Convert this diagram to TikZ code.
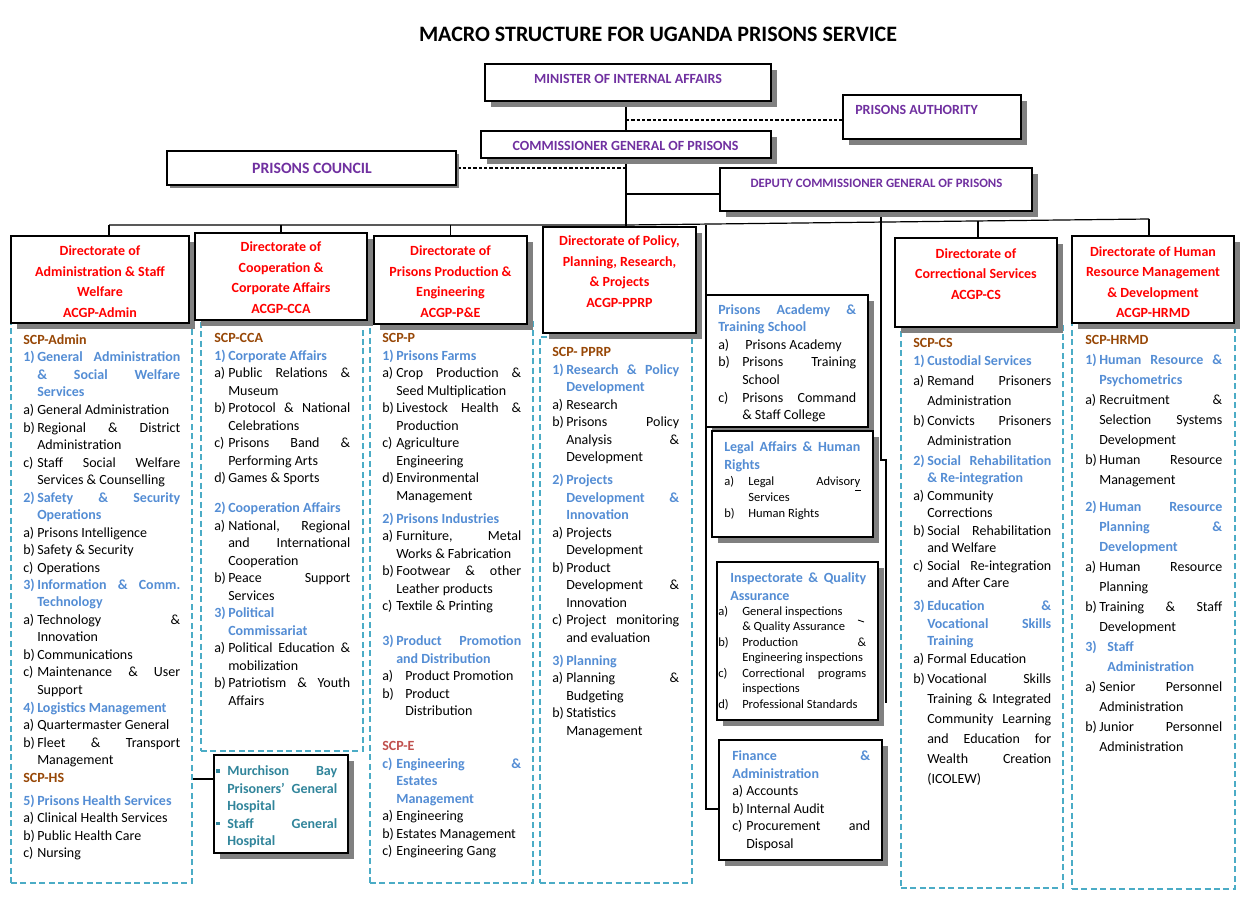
\documentclass[tikz,border=0pt]{standalone}
\usepackage{fontspec}
\setmainfont{Carlito}
\usetikzlibrary{shadows,backgrounds}
\definecolor{purp}{RGB}{112,48,160}
\definecolor{dred}{RGB}{255,0,0}
\definecolor{scpbrown}{RGB}{151,71,6}
\definecolor{scpred}{RGB}{192,80,77}
\definecolor{hblue}{RGB}{84,141,212}
\definecolor{dashc}{RGB}{75,172,198}
\definecolor{murch}{RGB}{49,133,155}
\definecolor{shad}{RGB}{128,128,128}
\newlength\hind
\newcommand\px[1]{\dimexpr #1pt*3/4\relax}
\newcommand\itm[2]{\par\hangindent=\hind\hangafter=1\noindent\makebox[\hind][l]{#1}#2}
\newcommand\itmw[3]{\par\hangindent=#1\hangafter=1\noindent\makebox[#1][l]{#2}#3}
\newcommand\hdg[2]{\par\hangindent=\hind\hangafter=1\noindent\textcolor{hblue}{\bfseries\makebox[\hind][l]{#1}#2}}
\newcommand\hdgw[3]{\par\hangindent=#1\hangafter=1\noindent\textcolor{hblue}{\bfseries\makebox[#1][l]{#2}#3}}
\newcommand\scp[2][scpbrown]{\par\noindent\textcolor{#1}{\bfseries #2}}
\newcommand\gap[1]{\par\vspace{\px{#1}}}
\newcommand\bs[1]{\par\baselineskip=\px{#1}\relax}
\newcommand\colt[3]{\begin{minipage}[t]{\px{#1}}\hind=\px{#2}\relax\fontsize{10.5}{13.125}\selectfont\frenchspacing\tolerance=10000\hbadness=10000\hfuzz=3pt\hyphenpenalty=10000\exhyphenpenalty=10000\parindent=0pt\parskip=0pt\relax #3\par\end{minipage}}
\newcommand\mbul{\textcolor{murch}{\rule[2.2pt]{2.6pt}{2.6pt}}}
\newcommand\mkbox[6]{\node[#1,minimum width={(#5-#3)*0.75pt},minimum height={(#6-#4)*0.75pt}] (#2) at ({(#3+#5)/2},{(#4+#6)/2}) {};}
\tikzset{
  ubox/.style={draw=black,line width=1.1pt,fill=white,inner sep=0pt,
    drop shadow={shadow xshift=4.5pt,shadow yshift=-4.5pt,fill=shad,opacity=1}},
  cbox/.style={draw=black,line width=2.2pt,fill=white,inner sep=0pt,
    drop shadow={shadow xshift=2.5pt,shadow yshift=-2.5pt,fill=shad,opacity=1}},
  cont/.style={draw=dashc,line width=1.6pt,dash pattern=on 4.5pt off 2.6pt,inner sep=0pt},
  conn/.style={draw=black,line width=0.9pt},
  dconn/.style={draw=black,line width=0.9pt,dash pattern=on 2.4pt off 1.6pt},
  txt/.style={inner sep=0pt,anchor=base west},
  dirt/.style={inner sep=0pt,align=center,text=dred,font=\bfseries\fontsize{10.5}{15.4}\selectfont},
  topt/.style={inner sep=0pt,text=purp,font=\bfseries\fontsize{10.5}{12}\selectfont},
}
\begin{document}
\begin{tikzpicture}[x=0.75pt,y=-0.75pt]
\useasboundingbox (0,0) rectangle (1252,905);
\node[font=\bfseries\fontsize{16.5}{18}\selectfont,inner sep=0pt] (title) at (658,34) {MACRO STRUCTURE FOR UGANDA PRISONS SERVICE};
% containers
\mkbox{cont}{kAdm}{11}{318}{192}{883}
\mkbox{cont}{kCCA}{201}{315}{363}{751}
\mkbox{cont}{kPE}{370}{319}{533}{883}
\mkbox{cont}{kPP}{540}{337}{692}{883}
\mkbox{cont}{kCS}{901}{322}{1063}{888}
\mkbox{cont}{kHR}{1072}{318}{1235}{889}
% top boxes
\mkbox{ubox}{min}{485}{64}{771}{101}
\mkbox{ubox}{auth}{843}{95}{1021}{139}
\mkbox{ubox}{cg}{481}{131}{771}{158}
\mkbox{cbox}{coun}{167}{151}{456}{185}
\mkbox{ubox}{dep}{720}{168}{1032}{211}
% directorates
\mkbox{ubox}{dAdm}{11}{236}{189}{323}
\mkbox{ubox}{dCCA}{195}{233}{367}{320}
\mkbox{ubox}{dPE}{374}{236}{527}{324}
\mkbox{ubox}{dPP}{543}{227}{696}{333}
\mkbox{ubox}{dCS}{895}{238}{1057}{327}
\mkbox{ubox}{dHR}{1072}{236}{1234}{323}
% side boxes
\mkbox{ubox}{acad}{706}{295}{868}{427}
\mkbox{ubox}{legal}{712}{431}{873}{537}
\mkbox{ubox}{insp}{717}{562}{878}{720}
\mkbox{ubox}{fin}{719}{740}{882}{860}
\mkbox{ubox}{murch}{214}{755}{348}{853}
% top texts
\node[topt] (tMin) at (628,79) {MINISTER OF INTERNAL AFFAIRS};
\node[topt,anchor=west] (tAuth) at (855,110) {PRISONS AUTHORITY};
\node[topt] (tCG) at (625.5,145.5) {COMMISSIONER GENERAL OF PRISONS};
\node[topt,font=\bfseries\fontsize{11.8}{13}\selectfont] (tCoun) at (312,168) {PRISONS COUNCIL};
\node[topt,font=\bfseries\fontsize{9.6}{11}\selectfont] (tDep) at (876.5,183) {DEPUTY COMMISSIONER GENERAL OF PRISONS};
% directorate texts
\node[dirt] (tAdm) at (100,281.5) {Directorate of\\Administration \& Staff\\Welfare\\ACGP-Admin};
\node[dirt] (tCCA) at (281,277.5) {Directorate of\\Cooperation \&\\Corporate Affairs\\ACGP-CCA};
\node[dirt] (tPE) at (450.5,281.5) {Directorate of\\Prisons Production \&\\Engineering\\ACGP-P\&E};
\node[dirt] (tPP) at (619.5,271.5) {Directorate of Policy,\\Planning, Research,\\\& Projects\\ACGP-PPRP};
\node[dirt] (tCS) at (976,274) {Directorate of\\Correctional Services\\ACGP-CS};
\node[dirt] (tHR) at (1153,282) {Directorate of Human\\Resource Management\\\& Development\\ACGP-HRMD};
% column texts
\node[txt] (cAdm) at (23,344.5) {\colt{157}{14}{%
\scp{SCP-Admin}
\hdg{1)}{General Administration \linebreak \& Social Welfare \linebreak Services}
\itm{a)}{General Administration}
\itm{b)}{Regional \& District \linebreak Administration}
\itm{c)}{Staff Social Welfare \linebreak Services \& Counselling}
\hdg{2)}{Safety \& Security \linebreak Operations}
\itm{a)}{Prisons Intelligence}
\itm{b)}{Safety \& Security}
\itm{c)}{Operations}
\hdg{3)}{Information \& Comm. \linebreak Technology}
\itm{a)}{Technology \& \linebreak Innovation}
\itm{b)}{Communications}
\itm{c)}{Maintenance \& User \linebreak Support}
\hdg{4)}{Logistics Management}
\itm{a)}{Quartermaster General}
\itm{b)}{Fleet \& Transport \linebreak Management}
\scp{SCP-HS}
\gap{5.5}
\hdg{5)}{Prisons Health Services}
\itm{a)}{Clinical Health Services}
\itm{b)}{Public Health Care}
\itm{c)}{Nursing}}};
\node[txt] (cCCA) at (214,342.5) {\colt{136}{14}{%
\scp{SCP-CCA}
\hdg{1)}{Corporate Affairs}
\itm{a)}{Public Relations \& \linebreak Museum}
\itm{b)}{Protocol \& National \linebreak Celebrations}
\itm{c)}{Prisons Band \& \linebreak Performing Arts}
\itm{d)}{Games \& Sports}
\gap{12.5}
\hdg{2)}{Cooperation Affairs}
\itm{a)}{National, Regional \linebreak and International \linebreak Cooperation}
\itm{b)}{Peace Support \linebreak Services}
\hdg{3)}{Political \linebreak Commissariat}
\itm{a)}{Political Education \& \linebreak mobilization}
\itm{b)}{Patriotism \& Youth \linebreak Affairs}}};
\node[txt] (cPE) at (382,342.5) {\colt{139}{14}{%
\scp{SCP-P}
\hdg{1)}{Prisons Farms}
\itm{a)}{Crop Production \& \linebreak Seed Multiplication}
\itm{b)}{Livestock Health \& \linebreak Production}
\itm{c)}{Agriculture \linebreak Engineering}
\itm{d)}{Environmental \linebreak Management}
\gap{5.5}
\hdg{2)}{Prisons Industries}
\itm{a)}{Furniture, Metal \linebreak Works \& Fabrication}
\itm{b)}{Footwear \& other \linebreak Leather products}
\itm{c)}{Textile \& Printing}
\gap{17.5}
\hdg{3)}{Product Promotion \linebreak and Distribution}
\itmw{\px{23}}{a)}{Product Promotion}
\itmw{\px{23}}{b)}{Product \linebreak Distribution}
\gap{17.5}
\scp[scpred]{SCP-E}
\hdg{c)}{Engineering \& \linebreak Estates \linebreak Management}
\itm{a)}{Engineering}
\itm{b)}{Estates Management}
\itm{c)}{Engineering Gang}}};
\node[txt] (cPP) at (552,356.5) {\colt{127}{14}{%
\scp{SCP- PPRP}
\hdg{1)}{Research \& Policy \linebreak Development}
\itm{a)}{Research}
\itm{b)}{Prisons Policy \linebreak Analysis \& \linebreak Development}
\gap{5.5}
\hdg{2)}{Projects \linebreak Development \& \linebreak Innovation}
\itm{a)}{Projects \linebreak Development}
\itm{b)}{Product \linebreak Development \& \linebreak Innovation}
\itm{c)}{Project monitoring \linebreak and evaluation}
\gap{5.5}
\hdg{3)}{Planning}
\itm{a)}{Planning \& \linebreak Budgeting}
\itm{b)}{Statistics \linebreak Management}}};
\node[txt] (cCS) at (913,347.5) {\colt{138}{14}{%
\scp{SCP-CS}
\hdg{1)}{Custodial Services}
\bs{20}
\itm{a)}{Remand Prisoners \linebreak Administration}
\itm{b)}{Convicts Prisoners \linebreak Administration}
\bs{17.5}\gap{2.5}
\hdg{2)}{Social Rehabilitation \linebreak \& Re-integration}
\itm{a)}{Community \linebreak Corrections}
\itm{b)}{Social Rehabilitation \linebreak and Welfare}
\itm{c)}{Social Re-integration \linebreak and After Care}
\gap{5.5}
\hdg{3)}{Education \& \linebreak Vocational Skills \linebreak Training}
\itm{a)}{Formal Education}
\bs{20}
\itm{b)}{Vocational Skills \linebreak Training \& Integrated \linebreak Community Learning \linebreak and Education for \linebreak Wealth Creation \linebreak (ICOLEW)}}};
\node[txt] (cHR) at (1085,344.5) {\colt{137}{14}{%
\scp{SCP-HRMD}
\bs{20}
\hdg{1)}{Human Resource \& \linebreak Psychometrics}
\itm{a)}{Recruitment \& \linebreak Selection Systems \linebreak Development}
\itm{b)}{Human Resource \linebreak Management}
\gap{7}
\hdg{2)}{Human Resource \linebreak Planning \& \linebreak Development}
\itm{a)}{Human Resource \linebreak Planning}
\itm{b)}{Training \& Staff \linebreak Development}
\hdgw{\px{22}}{3)}{Staff \linebreak Administration}
\itm{a)}{Senior Personnel \linebreak Administration}
\itm{b)}{Junior Personnel \linebreak Administration}}};
% side box texts
\node[txt] (cAcad) at (718,314.5) {\colt{138}{24}{%
\noindent\textcolor{hblue}{\bfseries Prisons Academy \& \linebreak Training School}
\itmw{\px{27}}{a)}{Prisons Academy}
\itm{b)}{Prisons Training \linebreak School}
\itm{c)}{Prisons Command \linebreak \& Staff College}}};
\node[txt] (cLegal) at (724,451.5) {\colt{136}{24}{%
\noindent\textcolor{hblue}{\bfseries Legal Affairs \& Human \linebreak Rights}\par
\fontsize{9.4}{12}\selectfont
\itm{a)}{Legal Advisory \linebreak Services}
\itm{b)}{Human Rights}}};
\node[txt] (cInsp) at (718,582.5) {\colt{148}{24}{%
{\leftskip=9pt\noindent\textcolor{hblue}{\bfseries Inspectorate \& Quality \linebreak Assurance}\par}
\fontsize{9.4}{11.6}\selectfont
\itm{a)}{General inspections\newline \& Quality Assurance}
\itm{b)}{Production \& \linebreak Engineering inspections}
\itm{c)}{Correctional programs \linebreak inspections}
\itm{d)}{Professional Standards}}};
\node[txt] (cFin) at (732,760.5) {\colt{138}{14}{%
\noindent\textcolor{hblue}{\bfseries Finance \& \linebreak Administration}
\itm{a)}{Accounts}
\itm{b)}{Internal Audit}
\itm{c)}{Procurement and \linebreak Disposal}}};
\node[txt] (cMurch) at (216,775.5) {\colt{121}{11}{%
\itm{\mbul}{\textcolor{murch}{\bfseries Murchison Bay \linebreak Prisoners’ General \linebreak Hospital}}
\itm{\mbul}{\textcolor{murch}{\bfseries Staff General \linebreak Hospital}}}};
% small marks
\draw[line width=0.7pt] (855,490) -- (861,490);
\draw[line width=0.6pt] (858,620) -- (864,622);
% connectors
\begin{scope}[on background layer]
\coordinate (ja) at (626,120);
\coordinate (jd) at (626,194);
\coordinate (bL) at (109,225);
\coordinate (bM) at (626,225);
\coordinate (bR) at (1149,219);
\coordinate (bC) at (978,221);
\coordinate (b7) at (706,225);
\coordinate (f7) at (706,809);
\coordinate (k1) at (881,460);
\coordinate (k2) at (886,460);
\coordinate (k3) at (886,703);
\coordinate (m1) at (192,779);
\draw[conn] (cg.north) -- (cg.north |- min.south);
\draw[conn] (cg.south) -- (cg.south |- dPP.north);
\draw[dconn] (ja) -- (ja -| auth.west);
\draw[dconn] (coun.east) -- (coun.east -| cg.south);
\draw[conn] (jd) -- (jd -| dep.west);
\draw[conn] (bL) -- (bM) -- (bR);
\draw[conn] (bL) -- (bL |- dAdm.north);
\draw[conn] (dCCA.north |- bL) -- (dCCA.north);
\draw[conn] (dPE.north |- bL) -- (dPE.north);
\draw[conn] (bC) -- (bC |- dCS.north);
\draw[conn] (bR) -- (bR |- dHR.north);
\draw[conn] (b7) -- (f7) -- (f7 -| fin.west);
\draw[conn] (dep.south -| k1) -- (k1) -- (k2) -- (k3);
\draw[conn] (kAdm.east |- m1) -- (m1 -| murch.west);
\end{scope}
\end{tikzpicture}
\end{document}
